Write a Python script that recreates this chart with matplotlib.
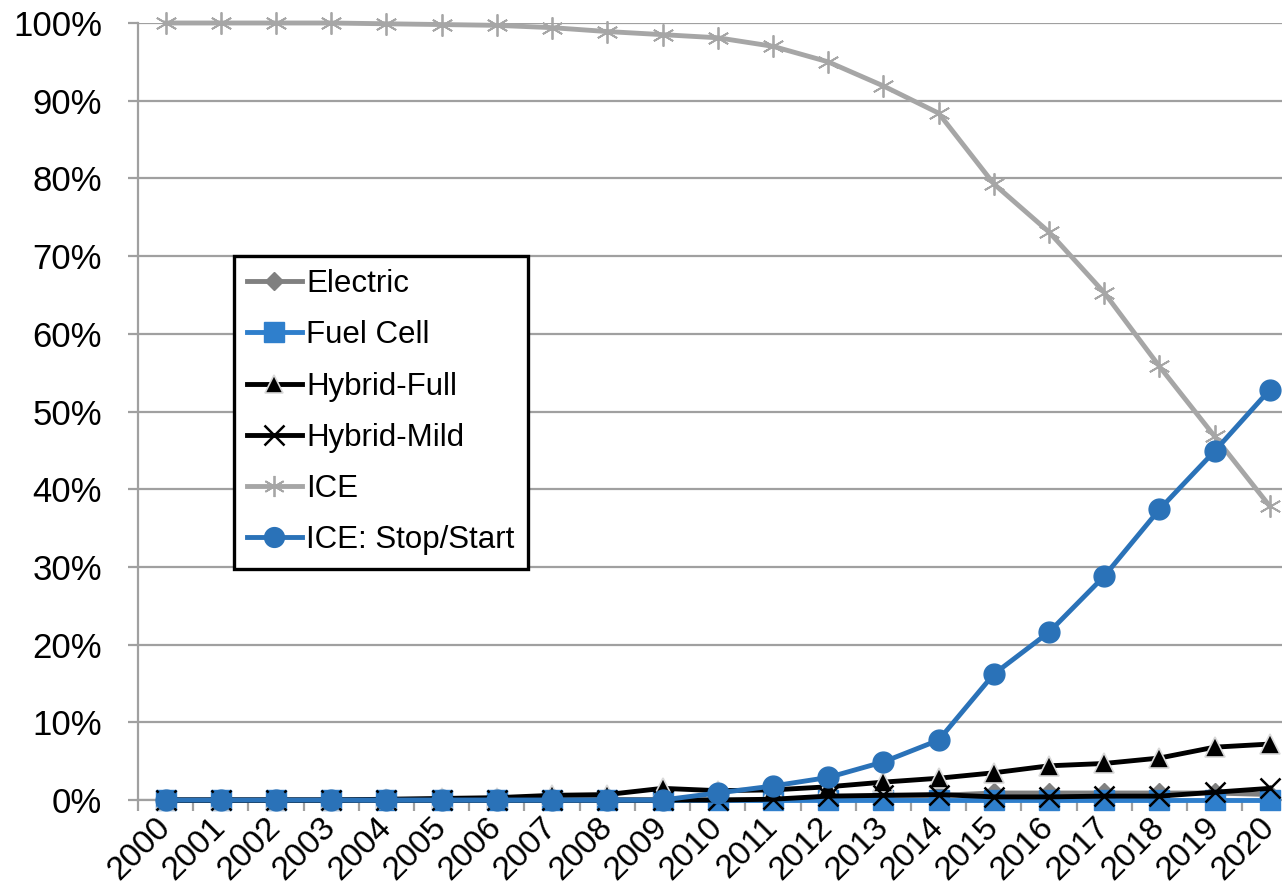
import matplotlib
matplotlib.use("Agg")
import matplotlib.pyplot as plt
from matplotlib.ticker import FuncFormatter, FixedLocator, NullFormatter

years = [str(y) for y in range(2000, 2021)]
electric = [0, 0, 0, 0, 0, 0, 0, 0, 0, 0, 0, 0, 0.2, 0.4, 0.6, 0.9, 0.9, 0.9, 0.9, 0.9, 0.7]
fuel_cell = [0] * 21
hybrid_full = [0, 0, 0, 0, 0.1, 0.2, 0.3, 0.6, 0.7, 1.5, 1.2, 1.3, 1.7, 2.3, 2.8, 3.5, 4.4, 4.7, 5.4, 6.8, 7.2]
hybrid_mild = [0, 0, 0, 0, 0, 0, 0, 0, 0, 0, 0, 0.1, 0.5, 0.6, 0.7, 0.4, 0.4, 0.5, 0.5, 1.0, 1.5]
ice = [100, 100, 100, 100, 99.9, 99.8, 99.7, 99.4, 98.9, 98.5, 98.1, 97.0, 95.0, 91.9, 88.4,
       79.3, 73.1, 65.3, 55.8, 46.8, 37.8]
stop_start = [0, 0, 0, 0, 0, 0, 0, 0, 0, 0, 0.9, 1.8, 2.9, 4.9, 7.7, 16.2, 21.6, 28.8, 37.4, 44.9, 52.8]

plt.rcParams['font.family'] = ['Liberation Sans', 'DejaVu Sans']

fig = plt.figure(figsize=(12.82, 8.93), dpi=100)
ax = fig.add_axes([138 / 1282, 1 - 800 / 893, (1282 - 138) / 1282, (800 - 23) / 893])

x = list(range(len(years)))
lw = 3.5
ax.plot(x, electric, color='#808080', lw=lw, marker='D', ms=10, mfc='#808080', mec='#808080',
        label='Electric', zorder=3, clip_on=False)
ax.plot(x, fuel_cell, color='#2F7FCC', lw=lw, marker='s', ms=15, mfc='#2F7FCC', mec='#2F7FCC',
        label='Fuel Cell', zorder=3, clip_on=False)
ax.plot(x, hybrid_full, color='black', lw=lw, marker='^', ms=14, mfc='black', mec='#D9D9D9', mew=1.2,
        label='Hybrid-Full', zorder=4, clip_on=False)
ax.plot(x, hybrid_mild, color='black', lw=lw, marker='x', ms=15, mec='black', mew=1.8,
        label='Hybrid-Mild', zorder=4, clip_on=False)
ax.plot(x, ice, color='#A6A6A6', lw=lw, marker=(6, 2, 0), ms=16, mec='#A6A6A6', mew=1.3,
        label='ICE', zorder=4, clip_on=False)
ax.plot(x, stop_start, color='#2A72B8', lw=lw, marker='o', ms=15, mfc='#2A72B8', mec='#2A72B8',
        label='ICE: Stop/Start', zorder=5, clip_on=False)

ax.set_xlim(-0.5, 20.22)
ax.set_ylim(0, 100)
ax.set_yticks(range(0, 101, 10))
ax.yaxis.set_major_formatter(FuncFormatter(lambda v, p: f"{int(round(v))}%"))
ax.yaxis.grid(True, color='#A0A0A0', lw=1.6)
ax.set_axisbelow(True)

ax.set_xticks(x)
ax.set_xticklabels(years, rotation=45, ha='right', va='center', rotation_mode='anchor', fontsize=24)
ax.tick_params(axis='x', which='major', length=0, pad=16)
ax.xaxis.set_minor_locator(FixedLocator([i + 0.5 for i in range(-1, 21)]))
ax.xaxis.set_minor_formatter(NullFormatter())
ax.tick_params(axis='x', which='minor', length=8, width=1.6, color='#A0A0A0', direction='out')
ax.tick_params(axis='y', labelsize=25, length=7, width=1.6, color='#A0A0A0', pad=19)

for s in ['top', 'right']:
    ax.spines[s].set_visible(False)
for s in ['left', 'bottom']:
    ax.spines[s].set_color('#A0A0A0')
    ax.spines[s].set_linewidth(1.6)

leg = ax.legend(loc='upper left', bbox_to_anchor=(234 / 1282, 1 - 256 / 893),
                bbox_transform=fig.transFigure, borderaxespad=0, fontsize=22.5,
                frameon=True, fancybox=False, framealpha=1, edgecolor='black',
                handlelength=1.75, handletextpad=0.15, labelspacing=0.68, borderpad=0.42,
                markerscale=0.95)
leg.get_frame().set_linewidth(2.4)

fig.savefig('out.png', dpi=100)
